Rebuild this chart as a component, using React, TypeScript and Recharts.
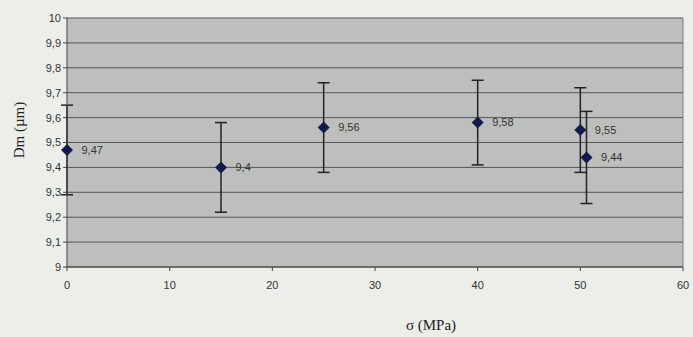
import React from 'react';
import {
  ScatterChart,
  Scatter,
  XAxis,
  YAxis,
  CartesianGrid,
  ErrorBar,
  LabelList,
  Label,
  ReferenceLine,
} from 'recharts';

const sigma = [0, 15, 25, 40, 50, 50.6];
const dm = [9.47, 9.4, 9.56, 9.58, 9.55, 9.44];
const dmErr = [0.18, 0.18, 0.18, 0.17, 0.17, 0.185];
const xTicks = [0, 10, 20, 30, 40, 50, 60];
const yTicks = [9, 9.1, 9.2, 9.3, 9.4, 9.5, 9.6, 9.7, 9.8, 9.9, 10];

const data = sigma.map((x, i) => ({ x, y: dm[i], err: dmErr[i] }));

const comma = (v: number) => String(v).replace('.', ',');

const serif = { fontFamily: 'Liberation Serif, Times New Roman, serif', fontSize: 15, fill: '#222' };

const Diamond = (props: any) => {
  const { cx, cy } = props;
  const r = 6;
  return (
    <polygon
      points={`${cx},${cy - r} ${cx + r},${cy} ${cx},${cy + r} ${cx - r},${cy}`}
      fill="#141a4c"
    />
  );
};

export default function App() {
  const tickStyle = { fontFamily: 'Liberation Sans, Arial, sans-serif', fontSize: 11, fill: '#333' };
  return (
    <div style={{ position: 'absolute', left: 0, top: 0, width: 693, height: 337, background: '#eceeea' }}>
      <ScatterChart
        width={693}
        height={337}
        margin={{ top: 18, right: 10, bottom: 40, left: 27 }}
      >
        <CartesianGrid
          vertical={false}
          horizontal
          fill="#bdbfbc"
          stroke="#555"
          strokeOpacity={1}
        />
        <ReferenceLine x={60} stroke="#7a7a7a" />
        <XAxis
          type="number"
          dataKey="x"
          domain={[0, 60]}
          ticks={xTicks}
          height={30}
          tick={tickStyle}
          tickSize={4}
          tickMargin={10}
          stroke="#444"
        >
          <Label
            content={() => (
              <text x={431} y={330} textAnchor="middle" style={serif}>
                σ (MPa)
              </text>
            )}
          />
        </XAxis>
        <YAxis
          type="number"
          dataKey="y"
          domain={[9, 10]}
          ticks={yTicks}
          width={40}
          tick={tickStyle}
          tickFormatter={comma}
          tickSize={4}
          tickMargin={2}
          stroke="#444"
          interval={0}
        >
          <Label
            content={() => (
              <text x={24} y={130} textAnchor="middle" transform="rotate(-90 24 130)" style={serif}>
                Dm (µm)
              </text>
            )}
          />
        </YAxis>
        <Scatter data={data} shape={<Diamond />} isAnimationActive={false}>
          <ErrorBar dataKey="err" direction="y" width={6} stroke="#222" strokeWidth={1.5} />
          <LabelList
            dataKey="y"
            position="right"
            offset={10}
            formatter={(v: any) => comma(v)}
            style={{ fontFamily: 'Liberation Sans, Arial, sans-serif', fontSize: 11, fill: '#333' }}
          />
        </Scatter>
      </ScatterChart>
    </div>
  );
}
